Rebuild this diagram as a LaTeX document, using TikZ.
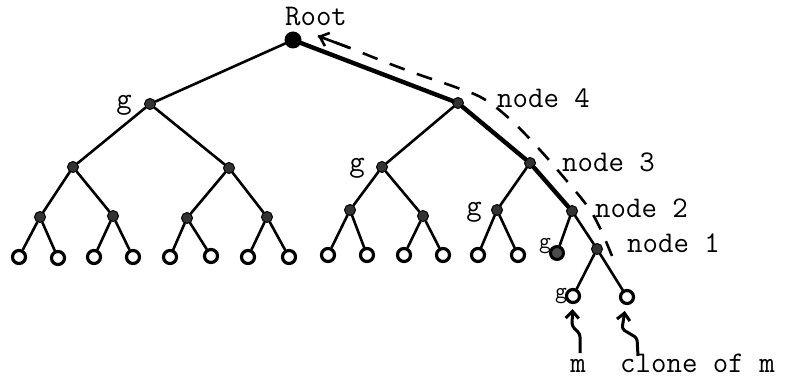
\documentclass[tikz,border=0pt]{standalone}
\usetikzlibrary{arrows.meta}
\begin{document}
\begin{tikzpicture}[x=1pt,y=-1pt,
  inner/.style={circle,fill=black!80,draw=black,line width=1pt,minimum size=11pt,inner sep=0pt},
  rootdot/.style={circle,fill=black,minimum size=17pt,inner sep=0pt},
  leaf/.style={circle,draw=black,line width=3.2pt,fill=white,minimum size=13pt,inner sep=0pt},
  fleaf/.style={circle,draw=black,line width=3pt,fill=black!70,minimum size=13pt,inner sep=0pt},
  edge/.style={line width=2.6pt,line cap=round},
  thick edge/.style={line width=4.4pt,line cap=round},
  lbl/.style={font=\ttfamily\fontsize{30}{30}\selectfont,inner sep=0pt},
  slbl/.style={font=\ttfamily\fontsize{23}{23}\selectfont,inner sep=0pt},
  dashpath/.style={line width=2.6pt,dash pattern=on 16pt off 13pt},
  wavy/.style={line width=3pt,-{Straight Barb[length=7pt,width=13pt,line width=3pt]},line join=round,rounded corners=3pt}
]
\useasboundingbox (0,0) rectangle (786,387);
% nodes
\node[rootdot] (r) at (293,40) {};
\node[inner] (a) at (150,104) {};
\node[inner] (n4) at (458,103) {};
% left subtree
\node[inner] (a1) at (73,167) {};
\node[inner] (a2) at (229,168) {};
\node[inner] (a11) at (40,217) {};
\node[inner] (a12) at (113,216) {};
\node[inner] (a21) at (187,218) {};
\node[inner] (a22) at (267,217) {};
\node[leaf] (l1) at (19,257) {};
\node[leaf] (l2) at (58,258) {};
\node[leaf] (l3) at (94,257) {};
\node[leaf] (l4) at (133,257) {};
\node[leaf] (l5) at (170,257) {};
\node[leaf] (l6) at (211,256) {};
\node[leaf] (l7) at (248,257) {};
\node[leaf] (l8) at (289,257) {};
% right subtree
\node[inner] (b1) at (382,167) {};
\node[inner] (n3) at (530,163) {};
\node[inner] (b11) at (350,210) {};
\node[inner] (b12) at (423,216) {};
\node[inner] (b2) at (497,210) {};
\node[inner] (n2) at (572,211) {};
\node[inner] (n1) at (597,249) {};
\node[leaf] (r1) at (328,255) {};
\node[leaf] (r2) at (367,255) {};
\node[leaf] (r3) at (404,255) {};
\node[leaf] (r4) at (443,255) {};
\node[leaf] (r5) at (478,255) {};
\node[leaf] (r6) at (518,255) {};
\node[fleaf] (gl) at (557,253) {};
\node[leaf] (m) at (573,296) {};
\node[leaf] (cm) at (627,297) {};
% edges
\draw[edge] (r) -- (a);
\draw[thick edge] (r) -- (n4);
\draw[edge] (a) -- (a1); \draw[edge] (a) -- (a2);
\draw[edge] (a1) -- (a11); \draw[edge] (a1) -- (a12);
\draw[edge] (a2) -- (a21); \draw[edge] (a2) -- (a22);
\draw[edge] (a11) -- (l1); \draw[edge] (a11) -- (l2);
\draw[edge] (a12) -- (l3); \draw[edge] (a12) -- (l4);
\draw[edge] (a21) -- (l5); \draw[edge] (a21) -- (l6);
\draw[edge] (a22) -- (l7); \draw[edge] (a22) -- (l8);
\draw[edge] (n4) -- (b1);
\draw[thick edge] (n4) -- (n3);
\draw[edge] (b1) -- (b11); \draw[edge] (b1) -- (b12);
\draw[edge] (b11) -- (r1); \draw[edge] (b11) -- (r2);
\draw[edge] (b12) -- (r3); \draw[edge] (b12) -- (r4);
\draw[edge] (n3) -- (b2);
\draw[thick edge] (n3) -- (n2);
\draw[edge] (b2) -- (r5); \draw[edge] (b2) -- (r6);
\draw[edge] (n2) -- (gl);
\draw[edge] (n2) -- (n1);
\draw[edge] (n1) -- (m); \draw[edge] (n1) -- (cm);
% dashed path
\coordinate (d0) at (612,256);
\coordinate (d1) at (600,228);
\coordinate (d2) at (588,207);
\coordinate (d3) at (566,180);
\coordinate (d4) at (540,150);
\coordinate (d5) at (512,121);
\coordinate (d6) at (484,99);
\coordinate (d7) at (455,87);
\coordinate (d8) at (420,75);
\coordinate (d9) at (385,62);
\coordinate (d10) at (350,48);
\coordinate (d11) at (318,36);
\draw[dashpath] plot[smooth,tension=0.6] coordinates {(d0) (d1) (d2) (d3) (d4) (d5) (d6) (d7) (d8) (d9) (d10) (d11)};
\draw[line width=2.6pt,-{Straight Barb[length=8pt,width=14pt,line width=2.6pt]}] (d10) -- (d11);
% wavy arrows
\coordinate (ma) at (580,353);
\coordinate (mb) at (580,334);
\coordinate (mc) at (572,326);
\draw[wavy,shorten >=5pt] (ma) -- (mb) -- (mc) -- (m);
\coordinate (ca) at (638,356);
\coordinate (cb) at (637,338);
\coordinate (cc) at (622,329);
\draw[wavy,shorten >=6pt] (ca) -- (cb) -- (cc) -- (cm);
% labels
\node[lbl,anchor=base] (troot) at (316,26) {Root};
\node[lbl,anchor=base] (tg1) at (124,109) {g};
\node[lbl,anchor=base] (tg2) at (357,172) {g};
\node[lbl,anchor=base] (tg3) at (474,215) {g};
\node[slbl,anchor=base] (tg4) at (545,248) {g};
\node[slbl,anchor=base] (tg5) at (561,298) {g};
\node[lbl,anchor=base west] (t4) at (497,108) {node 4};
\node[lbl,anchor=base west] (t3) at (562,172) {node 3};
\node[lbl,anchor=base west] (t2) at (595,218) {node 2};
\node[lbl,anchor=base west] (t1) at (627,252) {node 1};
\node[lbl,anchor=base] (tm) at (578,372) {m};
\node[lbl,anchor=base west] (tc) at (620,372) {clone of m};
\end{tikzpicture}
\end{document}
